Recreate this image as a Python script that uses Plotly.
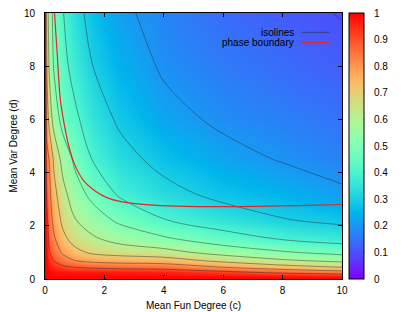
import numpy as np
import plotly.graph_objects as go

# grid (Mean Fun Degree c along x, Mean Var Degree d along y)
c_vals = [0, 0.01, 0.03, 0.07, 0.15, 0.3, 0.6, 1, 1.6, 2.5, 4, 6, 8, 10]
d_vals = [0, 0.05, 0.12, 0.25, 0.45, 0.7, 1, 1.5, 2.2, 3.2, 4.5, 6, 8, 10]

# z values, one row per d value
z_d000 = [1, 1, 1, 1, 1, 1, 1, 1, 1, 1, 1, 1, 1, 1]
z_d005 = [1, 1, 1, 1, 0.999, 0.999, 0.998, 0.998, 0.998, 0.998, 0.998, 0.997, 0.996, 0.995]
z_d012 = [1, 1, 1, 0.999, 0.996, 0.994, 0.993, 0.993, 0.993, 0.992, 0.990, 0.984, 0.975, 0.964]
z_d025 = [1, 1, 1, 0.997, 0.992, 0.982, 0.974, 0.971, 0.970, 0.967, 0.958, 0.925, 0.878, 0.840]
z_d045 = [1, 1, 0.999, 0.990, 0.971, 0.944, 0.916, 0.896, 0.882, 0.867, 0.856, 0.795, 0.737, 0.694]
z_d070 = [1, 1, 0.999, 0.981, 0.944, 0.894, 0.843, 0.800, 0.770, 0.754, 0.743, 0.670, 0.611, 0.571]
z_d100 = [1, 0.999, 0.997, 0.971, 0.904, 0.856, 0.785, 0.729, 0.683, 0.661, 0.634, 0.562, 0.510, 0.470]
z_d150 = [1, 0.998, 0.993, 0.950, 0.874, 0.814, 0.727, 0.662, 0.616, 0.566, 0.516, 0.445, 0.395, 0.363]
z_d220 = [1, 0.996, 0.983, 0.918, 0.848, 0.773, 0.677, 0.606, 0.548, 0.484, 0.405, 0.348, 0.306, 0.281]
z_d320 = [1, 0.991, 0.962, 0.871, 0.822, 0.732, 0.632, 0.544, 0.474, 0.388, 0.328, 0.276, 0.245, 0.212]
z_d450 = [1, 0.982, 0.922, 0.827, 0.793, 0.682, 0.565, 0.482, 0.397, 0.332, 0.272, 0.225, 0.195, 0.170]
z_d600 = [1, 0.966, 0.863, 0.757, 0.659, 0.562, 0.463, 0.419, 0.349, 0.287, 0.225, 0.186, 0.167, 0.148]
z_d800 = [1, 0.938, 0.802, 0.678, 0.580, 0.491, 0.427, 0.369, 0.301, 0.247, 0.190, 0.159, 0.139, 0.119]
z_d1000 = [1, 0.900, 0.754, 0.647, 0.549, 0.471, 0.405, 0.333, 0.270, 0.216, 0.173, 0.140, 0.116, 0.097]
z_grid = [z_d000, z_d005, z_d012, z_d025, z_d045, z_d070, z_d100, z_d150,
          z_d220, z_d320, z_d450, z_d600, z_d800, z_d1000]

# phase boundary
pb_c = [0.32, 0.42, 0.52, 0.65, 0.8, 1.0, 1.3, 1.7, 2.1, 2.6, 3.5, 4.5, 5.5, 6.5, 7.5, 8.5, 10]
pb_d = [10, 8.3, 6.72, 5.8, 5.0, 4.3, 3.7, 3.3, 3.05, 2.9, 2.79, 2.74, 2.72, 2.72, 2.74, 2.76, 2.8]

x_ticks = [0, 2, 4, 6, 8, 10]
y_ticks = [0, 2, 4, 6, 8, 10]
cb_ticks = [0, 0.1, 0.2, 0.3, 0.4, 0.5, 0.6, 0.7, 0.8, 0.9, 1]
cb_labels = ["0", "0.1", "0.2", "0.3", "0.4", "0.5", "0.6", "0.7", "0.8", "0.9", "1"]


def pal(x):
    r = min(1.0, abs(2 * x - 0.5))
    g = max(0.0, np.sin(np.pi * x))
    b = max(0.0, np.cos(np.pi * x / 2))
    return "rgb(%d,%d,%d)" % (round(255 * r), round(255 * g), round(255 * b))


colorscale = [[i / 40, pal(i / 40)] for i in range(41)]

FONT = "Liberation Sans, Arial, sans-serif"
ISO_COLOR = "rgba(40,40,40,0.45)"
PB_COLOR = "#e3262b"

# page is drawn with an 8px body margin, so the figure is sized / offset for it
W, H = 407, 304
ML, MR, MT, MB = 36.5, 72.5, 4.5, 33
PLOT_W = W - ML - MR

CB_X0 = 1.025
CB_THICK = 15

fig = go.Figure()
fig.add_trace(go.Heatmap(
    x=c_vals, y=d_vals, z=z_grid, zsmooth="best",
    colorscale=colorscale, zmin=0, zmax=1,
    colorbar=dict(
        thickness=CB_THICK, len=1, lenmode="fraction", x=CB_X0, xanchor="left",
        xpad=0, ypad=0, y=0.5, yanchor="middle",
        outlinewidth=1, outlinecolor="black",
        tickvals=cb_ticks, ticktext=cb_labels, ticks="outside", ticklen=8,
        tickcolor="rgba(0,0,0,0)", ticklabeloverflow="allow",
        tickfont=dict(size=10, family=FONT, color="black"),
    ),
    hoverinfo="skip",
))
fig.add_trace(go.Contour(
    x=c_vals, y=d_vals, z=z_grid,
    contours=dict(coloring="none", start=0.1, end=0.9, size=0.1),
    line=dict(color=ISO_COLOR, width=1, smoothing=1.0),
    showscale=False, hoverinfo="skip", showlegend=False,
))
fig.add_trace(go.Scatter(
    x=pb_c, y=pb_d, mode="lines",
    line=dict(color=PB_COLOR, width=1.2, shape="spline"),
    showlegend=False, hoverinfo="skip",
))

# colorbar tick dashes on both inner edges (gnuplot style)
cb_x1 = CB_X0 + CB_THICK / PLOT_W
for t in cb_ticks[1:-1]:
    fig.add_shape(type="line", xref="paper", yref="paper", x0=CB_X0, x1=CB_X0 + 3.5 / PLOT_W,
                  y0=t, y1=t, line=dict(color="rgba(0,0,0,0.75)", width=1))
    fig.add_shape(type="line", xref="paper", yref="paper", x0=cb_x1 - 4 / PLOT_W, x1=cb_x1,
                  y0=t, y1=t, line=dict(color="rgba(0,0,0,0.75)", width=1))

# gnuplot-style key (text right-aligned, sample to the right)
key_items = [("isolines", ISO_COLOR, 0.927), ("phase boundary", PB_COLOR, 0.889)]
for label, col, yk in key_items:
    fig.add_annotation(xref="paper", yref="paper", x=0.846, y=yk, text=label,
                       showarrow=False, xanchor="right", yanchor="middle",
                       font=dict(size=10, family=FONT, color="black"))
    fig.add_shape(type="line", xref="paper", yref="paper", x0=0.864, x1=0.958,
                  y0=yk, y1=yk, line=dict(color=col, width=1.2))

axis_common = dict(
    range=[0, 10], ticks="inside", ticklen=4, tickcolor="black", mirror="ticks",
    showline=True, linecolor="black", linewidth=1, showgrid=False, zeroline=False,
    tickfont=dict(size=10, family=FONT, color="black"), automargin=False,
    ticklabeloverflow="allow",
)
fig.update_xaxes(**axis_common, tickvals=x_ticks, ticklabelstandoff=2,
                 title=dict(text="Mean Fun Degree (c)", font=dict(size=10, family=FONT), standoff=6))
fig.update_yaxes(**axis_common, tickvals=y_ticks, ticklabelstandoff=7,
                 title=dict(text="Mean Var Degree (d)", font=dict(size=10, family=FONT), standoff=19))
fig.update_layout(
    width=W, height=H, margin=dict(l=ML, r=MR, t=MT, b=MB, autoexpand=False),
    paper_bgcolor="white", plot_bgcolor="white", font=dict(family=FONT, size=10, color="black"),
    showlegend=False,
)
fig.write_html("out.html")
